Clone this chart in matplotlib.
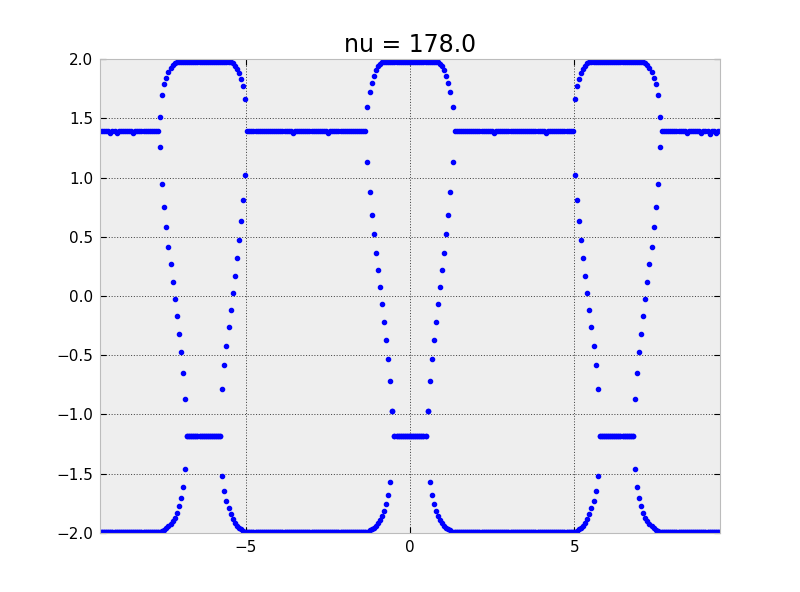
import numpy as np
import matplotlib
matplotlib.use('Agg')
import matplotlib.pyplot as plt

# sample positions along x (three values per position)
x = np.linspace(-3*np.pi, 3*np.pi, 300)

# upper band
top = ([1.39]*5 + [1.375] + [1.39]*2 + [1.38] + [1.39]*7 + [1.375] + [1.39]*12
       + [1.51, 1.70, 1.79, 1.845, 1.89, 1.925, 1.95, 1.965, 1.975]
       + [1.98]*25
       + [1.975, 1.965, 1.945, 1.92, 1.88, 1.83, 1.77, 1.66]
       + [1.39]*22 + [1.38] + [1.39]*16 + [1.38] + [1.39]*18
       + [1.60, 1.72, 1.80, 1.86, 1.905, 1.94, 1.96, 1.975]
       + [1.98]*26
       + [1.975, 1.96, 1.94, 1.905, 1.86, 1.80, 1.72, 1.60]
       + [1.39]*19 + [1.38] + [1.39]*24 + [1.375] + [1.39]*13
       + [1.66, 1.77, 1.83, 1.88, 1.92, 1.945, 1.965, 1.975]
       + [1.98]*25
       + [1.975, 1.965, 1.95, 1.925, 1.89, 1.845, 1.79, 1.70, 1.51]
       + [1.39]*12 + [1.375] + [1.39]*6 + [1.38] + [1.39]*3 + [1.37] + [1.39]*2
       + [1.375] + [1.39]*2)

# middle band
mid = ([-1.99]*29
       + [1.26, 0.95, 0.75, 0.58, 0.416, 0.272, 0.12, -0.024, -0.167, -0.32,
          -0.472, -0.65, -0.87]
       + [-1.18]*17
       + [-0.785, -0.58, -0.42, -0.26, -0.117, 0.027, 0.17, 0.323, 0.475, 0.636,
          0.81, 1.025]
       + [-1.99]*58
       + [1.129, 0.881, 0.687, 0.526, 0.365, 0.222, 0.078, -0.066, -0.218, -0.37,
          -0.531, -0.717, -0.971]
       + [-1.18]*16
       + [-0.971, -0.717, -0.531, -0.37, -0.218, -0.066, 0.078, 0.222, 0.365,
          0.526, 0.687, 0.881, 1.129]
       + [-1.99]*58
       + [1.025, 0.81, 0.636, 0.475, 0.323, 0.17, 0.027, -0.117, -0.26, -0.42,
          -0.58, -0.785]
       + [-1.18]*17
       + [-0.87, -0.65, -0.472, -0.32, -0.167, -0.024, 0.12, 0.272, 0.416, 0.58,
          0.75, 0.95, 1.26]
       + [-1.99]*29)

# lower band
bot = ([-1.99]*29
       + [-1.99, -1.985, -1.975, -1.96, -1.945, -1.925, -1.90, -1.875, -1.83,
          -1.775, -1.71, -1.61, -1.46]
       + [-1.18]*17
       + [-1.52, -1.645, -1.73, -1.79, -1.84, -1.88, -1.915, -1.94, -1.96,
          -1.972, -1.982, -1.99]
       + [-1.99]*57
       + [-1.99, -1.99, -1.98, -1.97, -1.957, -1.94, -1.915, -1.89, -1.856,
          -1.814, -1.757, -1.679, -1.569]
       + [-0.971]
       + [-1.18]*16
       + [-0.971]
       + [-1.569, -1.679, -1.757, -1.814, -1.856, -1.89, -1.915, -1.94, -1.957,
          -1.97, -1.98, -1.99, -1.99]
       + [-1.99]*57
       + [-1.99, -1.982, -1.972, -1.96, -1.94, -1.915, -1.88, -1.84, -1.79,
          -1.73, -1.645, -1.52]
       + [-1.18]*17
       + [-1.46, -1.61, -1.71, -1.775, -1.83, -1.875, -1.90, -1.925, -1.945,
          -1.96, -1.975, -1.985, -1.99]
       + [-1.99]*29)

nu = 178.0
xticks = [-5, 0, 5]
yticks = [-2.0, -1.5, -1.0, -0.5, 0.0, 0.5, 1.0, 1.5, 2.0]

fig = plt.figure(figsize=(8, 5.92), dpi=100)
ax = fig.add_subplot(111)
fig.subplots_adjust(left=0.125, right=0.9, bottom=0.1, top=0.9)
ax.set_facecolor('#eeeeee')

for band in (top, mid, bot):
    ax.plot(x, band, 'b.', markersize=6, markeredgewidth=1.0)

ax.set_xlim(-3*np.pi, 3*np.pi)
ax.set_ylim(-2.0, 2.0)
ax.set_xticks(xticks)
ax.set_yticks(yticks)
ax.tick_params(direction='in', length=4, width=0.8, pad=5, labelsize=11,
               top=True, right=True)
for s in ax.spines.values():
    s.set_color('#bcbcbc')
ax.grid(True, color='k', linewidth=0.5, linestyle=(0, (1.5, 2.5)))
ax.set_axisbelow(True)
ax.set_title('nu = %.1f' % nu, fontsize=17, pad=5)

fig.savefig('out.png', dpi=100)
